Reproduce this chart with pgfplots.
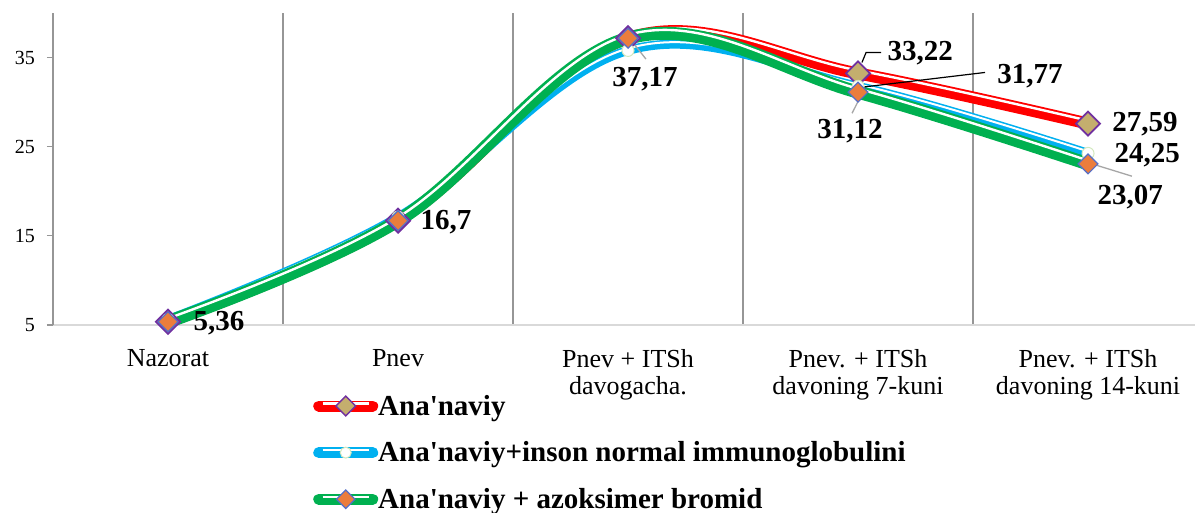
\documentclass[border=0pt]{standalone}
\usepackage{fontspec}
\setmainfont{Liberation Serif}
\newfontfamily\plainserif{Liberation Serif}
\usepackage{pgfplots}
\pgfplotsset{compat=1.18}

\definecolor{cRed}{RGB}{255,0,0}
\definecolor{cBlue}{RGB}{0,176,240}
\definecolor{cGreen}{RGB}{0,176,80}
\definecolor{cPurple}{RGB}{112,48,160}
\definecolor{cGold}{RGB}{196,174,110}
\definecolor{cOrange}{RGB}{235,125,60}
\definecolor{cEdge}{RGB}{84,110,200}
\definecolor{cPale}{RGB}{210,232,190}
\definecolor{cGrid}{RGB}{150,150,150}

\newcommand{\lbl}{\plainserif\fontsize{29}{32}\selectfont\bfseries}

\begin{document}
\begin{tikzpicture}
\useasboundingbox (0,0) rectangle (1195pt,513pt);
\begin{axis}[
  at={(53pt,188pt)}, anchor=south west,
  scale only axis, width=1142pt, height=312pt,
  xmin=-0.5, xmax=4.465, ymin=5, ymax=40,
  clip=false,
  axis x line=bottom, axis y line=left,
  x axis line style={-, draw=black!15, line width=1.5pt},
  y axis line style={-, draw=cGrid, line width=1.2pt},
  xtick={0,1,2,3,4},
  xticklabels={Nazorat, Pnev, {Pnev + ITSh\\davogacha.}, {Pnev. + ITSh\\davoning 7-kuni}, {Pnev. + ITSh\\davoning 14-kuni}},
  xticklabel style={font=\fontsize{26}{27}\selectfont, align=center, inner sep=0pt, anchor=north, yshift=-18pt},
  xtick style={draw=none},
  minor xtick={0.5,1.5,2.5,3.5},
  xminorgrids=true,
  minor x grid style={cGrid, line width=1.2pt},
  minor tick length=0pt,
  ytick={5,15,25,35},
  ytick style={draw=cGrid, line width=1.2pt},
  tick align=outside,
  major tick length=6pt,
  yticklabel style={font=\fontsize{20}{22}\selectfont, inner sep=0pt, xshift=-12pt},
  /pgf/number format/assume math mode=true,
  legend style={draw=none, fill=none, inner sep=0pt, row sep=25pt,
    at={(0.2277,-0.2244)}, anchor=north west,
    nodes={inner sep=0pt, font=\lbl},
    /tikz/every even column/.append style={column sep=6pt}},
  legend cell align=left,
  every axis plot/.append style={tension=0.6},
]
% red
\addplot[cRed, line width=12pt, smooth, line cap=round, forget plot] coordinates {(0,5.36) (1,16.7) (2,37.17) (3,33.22) (4,27.59)};
\addplot[white, line width=2.4pt, smooth, yshift=3pt, forget plot] coordinates {(0,5.36) (1,16.7) (2,37.17) (3,33.22) (4,27.59)};
% blue
\addplot[cBlue, line width=9pt, smooth, line cap=round, forget plot] coordinates {(0,5.6) (1,17.1) (2,35.8) (3,31.77) (4,24.25)};
\addplot[white, line width=2pt, smooth, yshift=2pt, forget plot] coordinates {(0,5.6) (1,17.1) (2,35.8) (3,31.77) (4,24.25)};
% green
\addplot[cGreen, line width=13pt, smooth, line cap=round, forget plot] coordinates {(0,5.36) (1,16.7) (2,37.17) (3,31.12) (4,23.07)};
\addplot[white, line width=2.4pt, smooth, yshift=3.4pt, forget plot] coordinates {(0,5.36) (1,16.7) (2,37.17) (3,31.12) (4,23.07)};
% markers
\addplot[only marks, mark=square*, mark size=8.5pt, mark options={rotate=45, fill=cGold, draw=cPurple, line width=1.8pt}, forget plot] coordinates {(0,5.36) (1,16.7) (2,37.17) (3,33.22) (4,27.59)};
\addplot[only marks, mark=*, mark size=6pt, mark options={fill=white, draw=cPale, line width=1pt}, forget plot] coordinates {(0,5.6) (1,17.1) (2,35.8) (3,31.77) (4,24.25)};
\addplot[only marks, mark=square*, mark size=7pt, mark options={rotate=45, fill=cOrange, draw=cEdge, line width=1.2pt}, forget plot] coordinates {(0,5.36) (1,16.7) (2,37.17) (3,31.12) (4,23.07)};

% legend
\addlegendimage{legend image code/.code={
  \draw[cRed, line width=11pt, line cap=round] (0pt,0pt) -- (54pt,0pt);
  \draw[white, line width=2.2pt] (4pt,2.6pt) -- (50pt,2.6pt);
  \draw[only marks, mark=square*, mark size=7pt, mark options={rotate=45, fill=cGold, draw=cPurple, line width=1.5pt}] plot coordinates {(27pt,0pt)};}}
\addlegendentry{Ana'naviy}
\addlegendimage{legend image code/.code={
  \draw[cBlue, line width=11pt, line cap=round] (0pt,0pt) -- (54pt,0pt);
  \draw[white, line width=2.2pt] (4pt,2.6pt) -- (50pt,2.6pt);
  \draw[only marks, mark=*, mark size=5.5pt, mark options={fill=white, draw=cPale, line width=1pt}] plot coordinates {(27pt,0pt)};}}
\addlegendentry{Ana'naviy+inson normal immunoglobulini}
\addlegendimage{legend image code/.code={
  \draw[cGreen, line width=11pt, line cap=round] (0pt,0pt) -- (54pt,0pt);
  \draw[white, line width=2.2pt] (4pt,2.6pt) -- (50pt,2.6pt);
  \draw[only marks, mark=square*, mark size=6.5pt, mark options={rotate=45, fill=cOrange, draw=cEdge, line width=1.2pt}] plot coordinates {(27pt,0pt)};}}
\addlegendentry{Ana'naviy + azoksimer bromid}

% data labels
\node[font=\lbl] at (axis cs:0.222,5.22) {5,36};
\node[font=\lbl] at (axis cs:1.209,16.53) {16,7};
\draw[black!35, line width=1.3pt] (axis cs:2.009,37.07) -- (axis cs:2.078,34.83);
\node[font=\lbl] at (axis cs:2.074,32.55) {37,17};
\draw[black, line width=1.2pt] (axis cs:3.1,35.57) -- (axis cs:3.035,35.57) -- (axis cs:3.017,34.45);
\node[font=\lbl] at (axis cs:3.270,35.46) {33,22};
\draw[black, line width=1.2pt] (axis cs:3.009,31.65) -- (axis cs:3.552,33.33);
\node[font=\lbl] at (axis cs:3.748,32.88) {31,77};
\draw[black!35, line width=1.3pt] (axis cs:3.009,30.54) -- (axis cs:2.974,28.75);
\node[font=\lbl] at (axis cs:2.965,26.72) {31,12};
\node[font=\lbl] at (axis cs:4.248,27.51) {27,59};
\node[font=\lbl] at (axis cs:4.257,24.04) {24,25};
\draw[black!35, line width=1.3pt] (axis cs:4.009,23.14) -- (axis cs:4.191,21.69);
\node[font=\lbl] at (axis cs:4.183,19.33) {23,07};
\end{axis}
\end{tikzpicture}
\end{document}
